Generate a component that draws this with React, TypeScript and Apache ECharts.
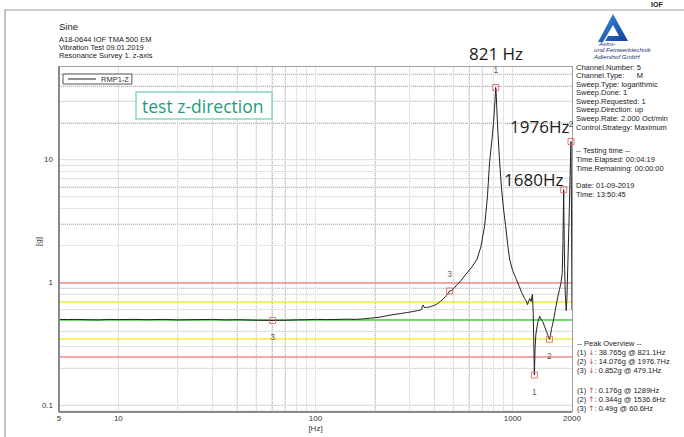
import React, { useEffect, useRef } from "react";
import * as echarts from "echarts";

// ---- data ----
const freq = [5, 5.5, 6, 7, 8, 9, 10, 12, 14, 17, 20, 25, 30, 35, 40, 50, 60.6, 70, 80, 90, 100, 115, 130, 145, 160, 175, 190, 210, 230, 250, 270, 290, 310, 330, 340, 345, 348, 352, 356, 365, 380, 400, 415, 430, 445, 460, 470, 479.1, 490, 505, 520, 545, 580, 620, 660, 690, 721, 745, 764, 785, 800, 810, 817, 821.1, 826, 835, 845, 859, 880, 900, 921, 945, 965, 1000, 1044, 1080, 1110, 1150, 1170, 1190, 1205, 1220, 1240, 1260, 1272, 1289, 1300, 1312, 1340, 1371, 1395, 1420, 1450, 1483, 1510, 1536.6, 1555, 1575, 1597, 1625, 1653, 1690, 1730, 1760, 1785, 1800, 1808, 1815, 1822, 1835, 1850, 1870, 1885, 1905, 1930, 1950, 1965, 1976.7, 1988, 2000];
const amp = [0.5, 0.498, 0.5, 0.497, 0.495, 0.5, 0.498, 0.5, 0.497, 0.5, 0.495, 0.498, 0.5, 0.495, 0.497, 0.492, 0.49, 0.492, 0.495, 0.497, 0.5, 0.498, 0.5, 0.502, 0.5, 0.505, 0.512, 0.52, 0.535, 0.548, 0.558, 0.568, 0.578, 0.59, 0.596, 0.6, 0.64, 0.655, 0.625, 0.625, 0.632, 0.65, 0.67, 0.7, 0.735, 0.78, 0.81, 0.852, 0.86, 0.9, 0.95, 1.03, 1.17, 1.33, 1.55, 1.95, 2.9, 5.0, 9.6, 14.5, 20, 27, 34, 38.765, 33, 22, 15, 9.6, 5.6, 3.9, 2.9, 2.0, 1.55, 1.25, 1.06, 0.93, 0.83, 0.74, 0.71, 0.66, 0.7, 0.74, 0.7, 0.8, 0.55, 0.176, 0.3, 0.38, 0.47, 0.53, 0.5, 0.48, 0.44, 0.4, 0.37, 0.344, 0.37, 0.42, 0.46, 0.53, 0.62, 0.75, 0.88, 1.0, 1.2, 2.2, 3.8, 5.7, 3.0, 1.3, 0.8, 0.59, 0.75, 1.4, 3.0, 6.0, 10, 14.076, 4, 0.6];

const peakFreq = [821.1, 1976.7, 479.1];
const peakAmp = [38.765, 14.076, 0.852];
const peakNames = ["1", "2", "3"];
const valleyFreq = [1289, 1536.6, 60.6];
const valleyAmp = [0.176, 0.344, 0.49];
const valleyNames = ["1", "2", "3"];
const extraPeakFreq = [1815];
const extraPeakAmp = [5.7];

const redLimits = [1.0, 0.25];
const yellowLimits = [0.7, 0.355];
const greenLimits = [0.5];

const X_MIN = 5;
const X_MAX = 2000;
const Y_MIN = 0.0801; // scale minimum (ECharts floors it to 0.08)
const Y_FRAME_MIN = 0.0877; // visible bottom of the plot frame
const Y_MAX = 58;

const xGridValues = [10, 20, 30, 40, 50, 60, 70, 80, 90, 100, 200, 300, 400, 500, 600, 700, 800, 900, 1000];
const yGridValues = [0.09, 0.1, 0.2, 0.3, 0.4, 0.5, 0.6, 0.7, 0.8, 0.9, 1, 2, 3, 4, 5, 6, 7, 8, 9, 10, 20, 30, 40, 50];

const infoLines = [
  "Channel.Number: 5",
  "Channel.Type:      M",
  "Sweep.Type: logarithmic",
  "Sweep.Done: 1",
  "Sweep.Requested: 1",
  "Sweep.Direction: up",
  "Sweep.Rate: 2.000 Oct/min",
  "Control.Strategy: Maximum",
];
const timeLines = ["-- Testing time --", "Time.Elapsed: 00:04:19", "Time.Remaining: 00:00:00"];
const dateLines = ["Date: 01-09-2019", "Time: 13:50:45"];
const peakLines = [
  "-- Peak Overview --",
  "(1) {r|↓}: 38.765g @ 821.1Hz",
  "(2) {r|↓}: 14.076g @ 1976.7Hz",
  "(3) {r|↓}: 0.852g @ 479.1Hz",
];
const valleyLines = [
  "(1) {r|↑}: 0.176g @ 1289Hz",
  "(2) {r|↑}: 0.344g @ 1536.6Hz",
  "(3) {r|↑}: 0.49g @ 60.6Hz",
];
const headerLines = ["A18-0644 IOF TMA 500 EM", "Vibration Test 09.01.2019", "Resonance Survey 1. z-axis"];

const LOGO_D = "M15,0 L30,27 L7,27 L10,22 L21,22 L15,11 L5,28 L0,28 Z";

let logoRegistered = false;
function registerLogo() {
  if (logoRegistered) return;
  try {
    echarts.graphic.registerShape("iofLogo", echarts.graphic.extendPath(LOGO_D, {}));
  } catch (e) {}
  logoRegistered = true;
}

const FONT = "'Liberation Sans', Arial, sans-serif";

export default function App() {
  const ref = useRef<HTMLDivElement>(null);
  useEffect(() => {
    if (!ref.current) return;
    registerLogo();
    const chart = echarts.init(ref.current, null, { renderer: "svg" });

    const curve = freq.map((f, i) => [f, amp[i]]);

    // light solid base grid (plain line series)
    const gridSeries: any[] = [];
    xGridValues.forEach((v, i) =>
      gridSeries.push({
        name: "xg" + i,
        type: "line",
        data: [
          [v, Y_FRAME_MIN],
          [v, Y_MAX],
        ],
        symbol: "none",
        silent: true,
        z: 1,
        lineStyle: { color: "#e6e6e6", width: 1 },
      })
    );
    yGridValues.forEach((v, i) =>
      gridSeries.push({
        name: "yg" + i,
        type: "line",
        data: [
          [X_MIN, v],
          [X_MAX, v],
        ],
        symbol: "none",
        silent: true,
        z: 1,
        lineStyle: { color: "#e6e6e6", width: 1 },
      })
    );
    // dotted overlay grid (markLine segments, like the frame)
    const dotMarks: any[] = [];
    xGridValues.forEach((v) => dotMarks.push([{ coord: [v, Y_FRAME_MIN] }, { coord: [v, Y_MAX] }]));
    yGridValues.forEach((v) => dotMarks.push([{ coord: [X_MIN, v] }, { coord: [X_MAX, v] }]));

    const frameMarks: any[] = [
      [{ coord: [X_MIN, Y_FRAME_MIN], lineStyle: { width: 2, color: "#8a8a8a" } }, { coord: [X_MAX, Y_FRAME_MIN] }],
      [{ coord: [X_MIN, Y_FRAME_MIN], lineStyle: { width: 2, color: "#8a8a8a" } }, { coord: [X_MIN, Y_MAX] }],
      [{ coord: [X_MIN, Y_MAX] }, { coord: [X_MAX, Y_MAX] }],
      [{ coord: [X_MAX, Y_FRAME_MIN] }, { coord: [X_MAX, Y_MAX] }],
    ];
    const limitMarks: any[] = [];
    redLimits.forEach((v) => limitMarks.push({ yAxis: v, lineStyle: { color: "#f08c8c", width: 1.5, type: "solid" } }));
    yellowLimits.forEach((v) => limitMarks.push({ yAxis: v, lineStyle: { color: "#f4ec3c", width: 1.5, type: "solid" } }));
    greenLimits.forEach((v) => limitMarks.push({ yAxis: v, lineStyle: { color: "#3fd43f", width: 1.5, type: "solid" } }));

    const markerData: any[] = [];
    peakFreq.forEach((f, i) =>
      markerData.push({ name: peakNames[i], value: [f, peakAmp[i]], label: { show: true, position: "top", distance: 9 } })
    );
    valleyFreq.forEach((f, i) =>
      markerData.push({ name: valleyNames[i], value: [f, valleyAmp[i]], label: { show: true, position: "bottom", distance: 9 } })
    );
    extraPeakFreq.forEach((f, i) => markerData.push({ name: "", value: [f, extraPeakAmp[i]], label: { show: false } }));

    const txt = (x: number, y: number, text: string, extra: any = {}) => ({
      type: "text",
      x,
      y,
      silent: true,
      style: { text, fill: "#222", font: `7.5px ${FONT}`, textVerticalAlign: "middle", ...extra },
    });
    const richArrow = { r: { fill: "#d04040", font: `7.5px 'DejaVu Sans', sans-serif`, lineHeight: 8.9 } };
    const helperData = [
      [X_MIN, 0.5],
      [X_MAX, 0.5],
    ];
    const helper = (name: string, z: number, data: any[], lineStyle?: any) => ({
      name,
      type: "line",
      data: helperData,
      symbol: "none",
      lineStyle: { opacity: 0 },
      silent: true,
      z,
      markLine: {
        z,
        silent: true,
        symbol: "none",
        label: { show: false },
        lineStyle,
        data,
      },
    });

    const option: any = {
      animation: false,
      backgroundColor: "#fff",
      textStyle: { fontFamily: FONT },
      grid: { left: 59, right: 112, top: 66, bottom: 18.3, show: false },
      legend: {
        data: [{ name: "RMP1-Z", icon: "path://M0,0 L28,0 L28,1 L0,1 Z" }],
        left: 63,
        top: 74,
        padding: [1, 3, 1, 5],
        itemWidth: 28,
        itemHeight: 1,
        borderColor: "#555",
        borderWidth: 1,
        backgroundColor: "#fff",
        textStyle: { fontSize: 7.5, color: "#333", fontFamily: FONT, lineHeight: 8 },
      },
      xAxis: {
        type: "log",
        min: X_MIN,
        max: X_MAX,
        name: "[Hz]",
        nameLocation: "middle",
        nameGap: 7,
        nameMoveOverlap: false,
        nameTextStyle: { fontSize: 8, color: "#333", fontFamily: FONT },
        axisLine: { show: false },
        axisTick: { show: false },
        splitLine: { show: false },
        axisLabel: {
          fontSize: 8,
          color: "#333",
          margin: -3,
          fontFamily: FONT,
          formatter: (v: number) => String(Math.round(v)),
        },
      },
      yAxis: {
        type: "log",
        min: Y_MIN,
        max: Y_MAX,
        name: "[g]",
        nameLocation: "middle",
        nameGap: 17,
        nameMoveOverlap: false,
        nameTextStyle: { fontSize: 8, color: "#333", fontFamily: FONT },
        axisLine: { show: false },
        axisTick: { show: false },
        splitLine: { show: false },
        axisLabel: {
          fontSize: 8,
          color: "#333",
          margin: 6,
          fontFamily: FONT,
          formatter: (v: number) => {
            const l = Math.log10(v);
            return Math.abs(l - Math.round(l)) < 1e-6 ? String(+v.toPrecision(3)) : "";
          },
        },
      },
      series: [
        ...gridSeries,
        helper("dots", 1, dotMarks, { color: "#9a9a9a", width: 1, type: "dotted" }),
        helper("limits", 2, limitMarks),
        helper("frame", 5, frameMarks, { color: "#a0a0a0", width: 1, type: "solid" }),
        {
          name: "RMP1-Z",
          type: "line",
          data: curve,
          symbol: "none",
          z: 3,
          lineStyle: { color: "#222", width: 1 },
          itemStyle: { color: "#222" },
        },
        {
          name: "markers",
          type: "scatter",
          data: markerData,
          symbol: "rect",
          symbolSize: 6,
          z: 6,
          itemStyle: { color: "rgba(255,255,255,0)", borderColor: "#e35656", borderWidth: 1 },
          label: { formatter: (p: any) => p.name, fontSize: 8.5, color: "#333", fontFamily: FONT },
        },
      ],
      graphic: [
        {
          type: "rect",
          silent: true,
          shape: { x: 5, y: 10, width: 700, height: 450 },
          style: { fill: "none", stroke: "#9a9a9a", lineWidth: 1.2 },
        },
        txt(651, 4, "IOF", { font: `bold 7px ${FONT}` }),
        txt(59, 26, "Sine", { font: `9.5px ${FONT}` }),
        {
          type: "text",
          x: 59,
          y: 35,
          silent: true,
          style: { text: headerLines.join("\n"), fill: "#222", font: `7.5px ${FONT}`, lineHeight: 8 },
        },
        {
          type: "iofLogo",
          x: 598,
          y: 14,
          scaleX: 1,
          scaleY: 1,
          silent: true,
          style: {
            fill: new echarts.graphic.LinearGradient(0, 0, 1, 1, [
              { offset: 0, color: "#3d8fe0" },
              { offset: 1, color: "#0d3f96" },
            ]),
          },
        },
        {
          type: "text",
          x: 594,
          y: 40,
          silent: true,
          style: {
            text: "   Astro-\nund Feinwerktechnik\nAdlershof GmbH",
            fill: "#1b2f6b",
            font: `italic 6.2px ${FONT}`,
            lineHeight: 6.4,
          },
        },
        {
          type: "text",
          x: 576,
          y: 62.7,
          silent: true,
          style: { text: infoLines.join("\n"), fill: "#222", font: `7.5px ${FONT}`, lineHeight: 8.6 },
        },
        {
          type: "text",
          x: 576,
          y: 146.5,
          silent: true,
          style: { text: timeLines.join("\n"), fill: "#222", font: `7.5px ${FONT}`, lineHeight: 8.7 },
        },
        {
          type: "text",
          x: 576,
          y: 181.5,
          silent: true,
          style: { text: dateLines.join("\n"), fill: "#222", font: `7.5px ${FONT}`, lineHeight: 8.7 },
        },
        {
          type: "text",
          x: 577,
          y: 339.5,
          silent: true,
          style: {
            text: peakLines.join("\n"),
            fill: "#222",
            font: `7.5px ${FONT}`,
            lineHeight: 8.9,
            rich: richArrow,
          },
        },
        {
          type: "text",
          x: 577,
          y: 386,
          silent: true,
          style: {
            text: valleyLines.join("\n"),
            fill: "#222",
            font: `7.5px ${FONT}`,
            lineHeight: 8.7,
            rich: richArrow,
          },
        },
        {
          type: "rect",
          silent: true,
          z: 10,
          shape: { x: 136, y: 92, width: 136, height: 27 },
          style: { fill: "#fff", stroke: "#8ad7bf", lineWidth: 1.5 },
        },
        {
          type: "text",
          x: 142,
          y: 105.5,
          z: 11,
          silent: true,
          style: { text: "test z-direction", fill: "#1f9c7a", font: `17.5px 'Open Sans', sans-serif`, textVerticalAlign: "middle" },
        },
        {
          type: "text",
          x: 469,
          y: 53,
          z: 11,
          silent: true,
          style: { text: "821 Hz", fill: "#1a1a1a", font: `17px 'Open Sans', sans-serif`, textVerticalAlign: "middle" },
        },
        {
          type: "text",
          x: 510,
          y: 126,
          z: 11,
          silent: true,
          style: { text: "1976Hz", fill: "#1a1a1a", font: `17px 'Open Sans', sans-serif`, textVerticalAlign: "middle" },
        },
        {
          type: "text",
          x: 504,
          y: 179,
          z: 11,
          silent: true,
          style: { text: "1680Hz", fill: "#1a1a1a", font: `17px 'Open Sans', sans-serif`, textVerticalAlign: "middle" },
        },
      ],
    };
    chart.setOption(option);
    return () => chart.dispose();
  }, []);
  return <div ref={ref} style={{ position: "fixed", left: 0, top: 0, width: 684, height: 437, background: "#fff" }} />;
}
